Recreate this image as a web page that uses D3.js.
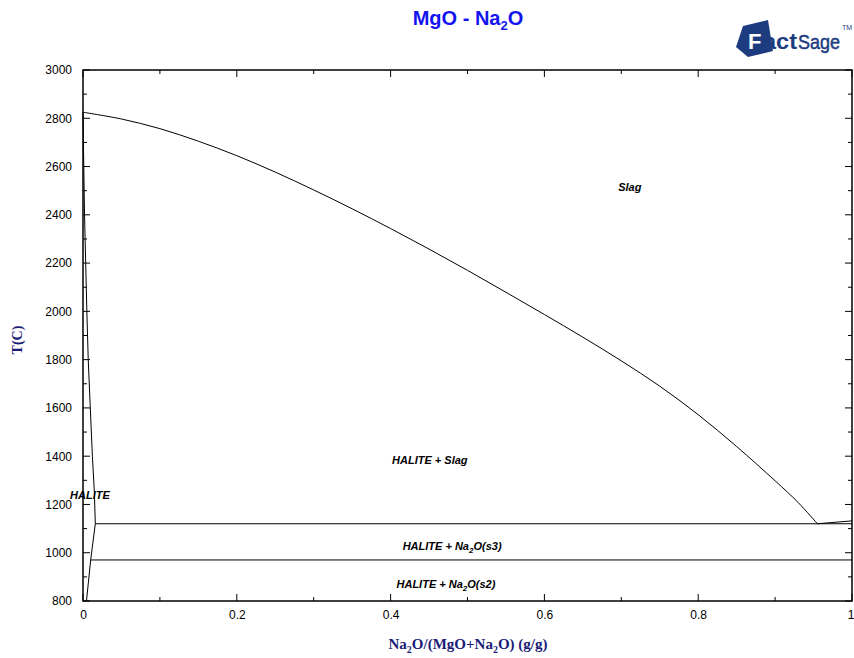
<!DOCTYPE html>
<html>
<head>
<meta charset="utf-8">
<script src="https://cdn.jsdelivr.net/npm/d3@7"></script>
<style>
  body { margin: 0; background: #fff; }
  svg { display: block; }
</style>
</head>
<body>
<svg id="chart" width="854" height="658"></svg>
<script>
// ---- Phase diagram data: MgO - Na2O (mass fraction Na2O, temperature in C) ----
const xTickValues = [0, 0.2, 0.4, 0.6, 0.8, 1];
const xTickLabels = ["0", "0.2", "0.4", "0.6", "0.8", "1"];
const yTickValues = [800, 1000, 1200, 1400, 1600, 1800, 2000, 2200, 2400, 2600, 2800, 3000];
const yTickLabels = ["800", "1000", "1200", "1400", "1600", "1800", "2000", "2200", "2400", "2600", "2800", "3000"];

// Liquidus of halite (MgO-rich solid solution)
const liquidusX = [0, 0.05, 0.1, 0.15, 0.2, 0.25, 0.3, 0.35, 0.4, 0.45, 0.5, 0.55, 0.6, 0.65, 0.7, 0.75, 0.8, 0.85, 0.9, 0.93, 0.955];
const liquidusT = [2825, 2797, 2757, 2705, 2645, 2577, 2503, 2425, 2343, 2258, 2170, 2079, 1987, 1893, 1795, 1690, 1572, 1440, 1298, 1208, 1120];

// Solubility limit of Na2O in halite
const solvusX = [0, 0.001, 0.002, 0.0035, 0.005, 0.0068, 0.0095, 0.0122, 0.0148, 0.016, 0.0128, 0.0100, 0.0045];
const solvusT = [2825, 2600, 2400, 2200, 2000, 1800, 1600, 1400, 1250, 1120, 1040, 970, 800];

// Liquidus of Na2O
const na2oLiquidusX = [0.955, 1];
const na2oLiquidusT = [1120, 1132];

// Invariant lines
const eutecticT = 1120;
const eutecticFrom = 0.016;
const transitionT = 970;
const transitionFrom = 0.0100;

// Phase-field labels (text, x fraction, T)
const fieldText = ["Slag", "HALITE + Slag", "HALITE", "HALITE + Na|2|O(s3)", "HALITE + Na|2|O(s2)"];
const fieldX = [0.711, 0.451, 0.009, 0.480, 0.472];
const fieldT = [2515, 1384, 1239, 1028, 870];

// ---- Drawing ----
const svg = d3.select("#chart");
const plotLeft = 83, plotRight = 852, plotTop = 70, plotBottom = 601;

const x = d3.scaleLinear().domain([0, 1]).range([plotLeft, plotRight]);
const y = d3.scaleLinear().domain([800, 3000]).range([plotBottom, plotTop]);

const line = d3.line().x(d => x(d[0])).y(d => y(d[1]));
const smooth = d3.line().x(d => x(d[0])).y(d => y(d[1])).curve(d3.curveCatmullRom.alpha(0.5));
const zip = (a, b) => a.map((v, i) => [v, b[i]]);

// Tick marks on all four sides, pointing inward
const xMinor = d3.range(0, 1.0001, 0.1);
const yMinor = d3.range(800, 3001, 100);
const ticks = svg.append("g").attr("stroke", "#000").attr("stroke-width", 1);
xMinor.forEach(v => {
  const major = xTickValues.some(t => Math.abs(t - v) < 1e-6);
  const len = major ? 7 : 4;
  ticks.append("line").attr("x1", x(v)).attr("x2", x(v)).attr("y1", plotBottom).attr("y2", plotBottom - len);
  ticks.append("line").attr("x1", x(v)).attr("x2", x(v)).attr("y1", plotTop).attr("y2", plotTop + len);
});
yMinor.forEach(v => {
  const major = yTickValues.includes(v);
  const len = major ? 7 : 4;
  ticks.append("line").attr("y1", y(v)).attr("y2", y(v)).attr("x1", plotLeft).attr("x2", plotLeft + len);
  ticks.append("line").attr("y1", y(v)).attr("y2", y(v)).attr("x1", plotRight).attr("x2", plotRight - len);
});

// Tick labels via d3 axes (tick lines hidden, drawn above)
const xAxis = d3.axisBottom(x).tickValues(xTickValues)
  .tickFormat((d, i) => xTickLabels[i]).tickSize(0).tickPadding(9);
const yAxis = d3.axisLeft(y).tickValues(yTickValues)
  .tickFormat((d, i) => yTickLabels[i]).tickSize(0).tickPadding(11);
const gx = svg.append("g").attr("transform", `translate(0,${plotBottom})`).call(xAxis);
const gy = svg.append("g").attr("transform", `translate(${plotLeft},0)`).call(yAxis);
[gx, gy].forEach(g => {
  g.select(".domain").remove();
  g.selectAll("text").attr("font-family", "'Liberation Sans', Arial, sans-serif")
    .attr("font-size", 12).attr("fill", "#000");
});
gx.selectAll("text").filter(d => d === 1).attr("dx", -1.5);

// Phase boundaries
const curves = svg.append("g").attr("fill", "none").attr("stroke", "#000").attr("stroke-width", 1);
curves.append("path").attr("d", smooth(zip(liquidusX, liquidusT)));
curves.append("path").attr("d", line(zip(solvusX, solvusT)));
curves.append("path").attr("d", line(zip(na2oLiquidusX, na2oLiquidusT)));
curves.append("path").attr("d", line([[eutecticFrom, eutecticT], [1, eutecticT]]));
curves.append("path").attr("d", line([[transitionFrom, transitionT], [1, transitionT]]));

// Frame
svg.append("rect").attr("x", plotLeft).attr("y", plotTop)
  .attr("width", plotRight - plotLeft).attr("height", plotBottom - plotTop)
  .attr("fill", "none").attr("stroke", "#000").attr("stroke-width", 1.5);

// Text with "|2|" marking a subscript
function richText(sel, str, subSize) {
  const shift = subSize * 0.4;
  str.split("|").forEach((part, i) => {
    if (!part) return;
    if (i % 2 === 1) {
      sel.append("tspan").attr("font-size", subSize).attr("dy", shift).text(part);
    } else {
      const t = sel.append("tspan").text(part);
      if (i > 0) t.attr("dy", -shift);
    }
  });
}

// Phase field labels
fieldText.forEach((t, i) => {
  const tx = svg.append("text")
    .attr("x", x(fieldX[i])).attr("y", y(fieldT[i]) + 4)
    .attr("text-anchor", "middle")
    .attr("font-family", "'Liberation Sans', Arial, sans-serif")
    .attr("font-size", 11).attr("font-weight", "bold").attr("font-style", "italic")
    .attr("fill", "#000");
  richText(tx, t, 8);
});

// Title
const title = svg.append("text").attr("x", 468).attr("y", 25).attr("text-anchor", "middle")
  .attr("font-family", "'Liberation Sans', Arial, sans-serif")
  .attr("font-size", 20).attr("font-weight", "bold").attr("fill", "#1414f0");
richText(title, "MgO - Na|2|O", 13);

// Axis titles
const xTitle = svg.append("text").attr("x", 468).attr("y", 649).attr("text-anchor", "middle")
  .attr("font-family", "'Liberation Serif', 'Times New Roman', serif")
  .attr("font-size", 15).attr("font-weight", "bold").attr("fill", "#1c1c78");
richText(xTitle, "Na|2|O/(MgO+Na|2|O) (g/g)", 10);

svg.append("text").attr("transform", "translate(22,340) rotate(-90)")
  .attr("text-anchor", "middle")
  .attr("font-family", "'Liberation Serif', 'Times New Roman', serif")
  .attr("font-size", 14).attr("font-weight", "bold").attr("fill", "#1c1c78")
  .text("T(C)");

// FactSage logo
const logo = svg.append("g");
const navy = "#1d3c80";
logo.append("path").attr("d", "M743,26 L768,20 L773,51 L748,57 L736,47 Z")
  .attr("fill", navy);
logo.append("text").attr("x", 748).attr("y", 49)
  .attr("font-family", "'Liberation Sans', Arial, sans-serif")
  .attr("font-size", 22).attr("font-weight", "bold").attr("fill", "#fff").text("F");
logo.append("text").attr("x", 763).attr("y", 49)
  .attr("font-family", "'Liberation Sans', Arial, sans-serif")
  .attr("font-size", 22).attr("font-weight", "bold").attr("fill", navy)
  .attr("textLength", 34).attr("lengthAdjust", "spacingAndGlyphs").text("act");
logo.append("text").attr("x", 798).attr("y", 49)
  .attr("font-family", "'Liberation Sans', Arial, sans-serif")
  .attr("font-size", 21).attr("fill", navy).attr("stroke", navy).attr("stroke-width", 0.5)
  .attr("textLength", 42).attr("lengthAdjust", "spacingAndGlyphs").text("Sage");
logo.append("text").attr("x", 842).attr("y", 30)
  .attr("font-family", "'Liberation Sans', Arial, sans-serif")
  .attr("font-size", 7).attr("fill", navy).text("TM");
</script>
</body>
</html>
